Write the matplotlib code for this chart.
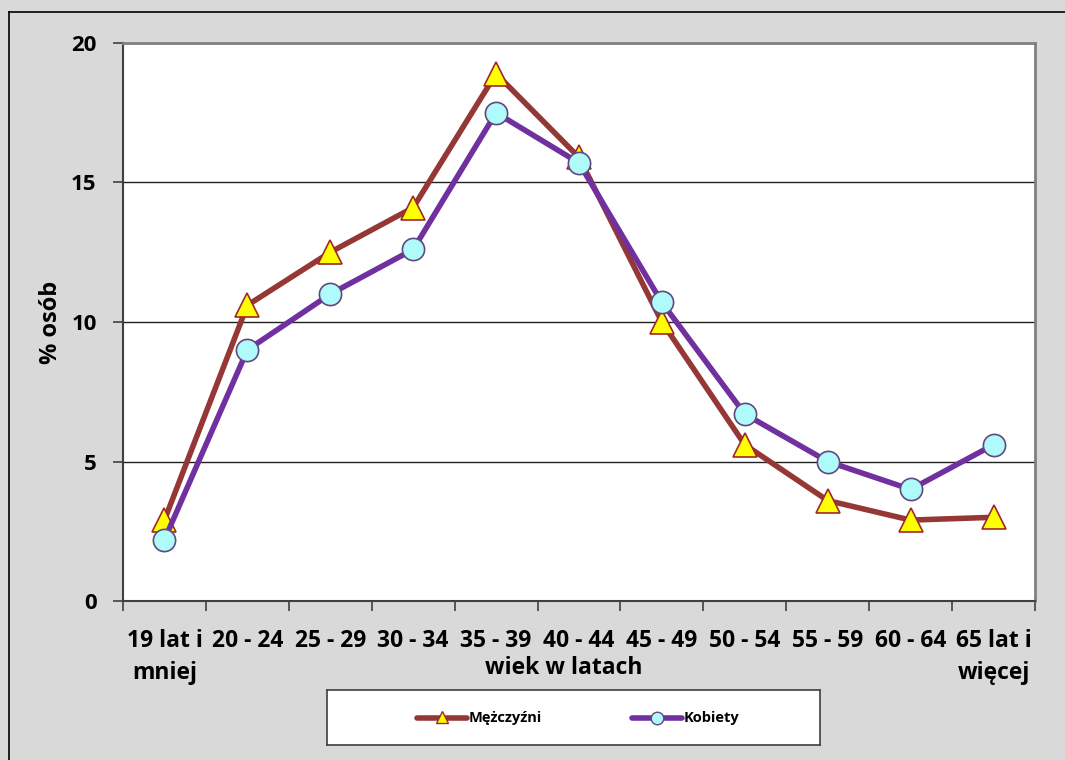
import matplotlib
matplotlib.use("Agg")
import matplotlib.pyplot as plt
from matplotlib.lines import Line2D

categories = ["19 lat i\nmniej", "20 - 24", "25 - 29", "30 - 34", "35 - 39", "40 - 44",
              "45 - 49", "50 - 54", "55 - 59", "60 - 64", "65 lat i\nwięcej"]
men = [2.9, 10.6, 12.5, 14.1, 18.9, 15.9, 10.0, 5.6, 3.6, 2.9, 3.0]
women = [2.2, 9.0, 11.0, 12.6, 17.5, 15.7, 10.7, 6.7, 5.0, 4.0, 5.6]
yticks = [0, 5, 10, 15, 20]

plt.rcParams['font.family'] = ['Open Sans', 'DejaVu Sans']

W, H = 1065, 760
fig = plt.figure(figsize=(W / 100, H / 100), dpi=100)
fig.patch.set_facecolor("#D9D9D9")

# outer border (left and top visible)
bx, by = 8.5 / W, 1 - 11.5 / H
fig.add_artist(Line2D([bx, bx], [0, by], transform=fig.transFigure, color="black", lw=1.2))
fig.add_artist(Line2D([bx, 1], [by, by], transform=fig.transFigure, color="black", lw=1.2))

left, right, top, bottom = 123, 1035, 43, 601
ax = fig.add_axes([left / W, 1 - bottom / H, (right - left) / W, (bottom - top) / H])
ax.set_facecolor("white")

x = list(range(len(categories)))
ax.plot(x, men, color="#953735", lw=4, marker="^", ms=17, mfc="#FFFF00", mec="#A0282A",
        mew=1.2, zorder=3, label="Mężczyźni")
ax.plot(x, women, color="#7030A0", lw=4, marker="o", ms=16, mfc="#AFFBFB", mec="#604A7B",
        mew=1.2, zorder=4, label="Kobiety")

ax.set_xlim(-0.5, len(categories) - 0.5)
ax.set_ylim(0, 20)
ax.set_yticks(yticks)
ax.set_yticklabels([str(v) for v in yticks], fontsize=16, fontweight="bold")
ax.yaxis.grid(True, color="#202020", lw=1)
ax.set_axisbelow(True)

ax.set_xticks([i - 0.5 for i in range(len(categories) + 1)])
ax.set_xticklabels([])
ax.set_xticks(x, minor=True)
ax.set_xticklabels(categories, minor=True, fontsize=16.5, fontweight="bold", linespacing=1.45)
ax.tick_params(axis="x", which="minor", length=0, pad=20)
ax.tick_params(axis="x", which="major", length=7, width=1.2, color="#404040")
ax.tick_params(axis="y", length=7, width=1.2, color="#404040", pad=12)

for s in ["top", "right"]:
    ax.spines[s].set_color("#808080")
    ax.spines[s].set_linewidth(2)
for s in ["left", "bottom"]:
    ax.spines[s].set_color("#404040")
    ax.spines[s].set_linewidth(1.5)

ax.set_ylabel("% osób", fontsize=17, fontweight="bold", labelpad=6)
fig.text(564 / W, 1 - 668 / H, "wiek w latach", ha="center", va="center",
         fontsize=16.5, fontweight="bold")

# legend
lax = fig.add_axes([327 / W, 1 - 745 / H, (820 - 327) / W, (745 - 690) / H])
lax.set_xlim(0, 493)
lax.set_ylim(0, 55)
lax.set_xticks([])
lax.set_yticks([])
lax.set_facecolor("white")
for s in lax.spines.values():
    s.set_color("#404040")
    s.set_linewidth(1.2)
lax.plot([90, 140], [27, 27], color="#953735", lw=4, solid_capstyle="round")
lax.plot([115], [28], marker="^", ms=9, mfc="#FFFF00", mec="#A0282A", mew=1, color="#953735")
lax.text(142, 27, "Mężczyźni", fontsize=10.5, fontweight="bold", va="center", ha="left")
lax.plot([305, 355], [27, 27], color="#7030A0", lw=4, solid_capstyle="round")
lax.plot([330], [27], marker="o", ms=9, mfc="#AFFBFB", mec="#604A7B", mew=1)
lax.text(357, 27, "Kobiety", fontsize=10.5, fontweight="bold", va="center", ha="left")

fig.savefig("out.png", dpi=100, facecolor=fig.get_facecolor())
